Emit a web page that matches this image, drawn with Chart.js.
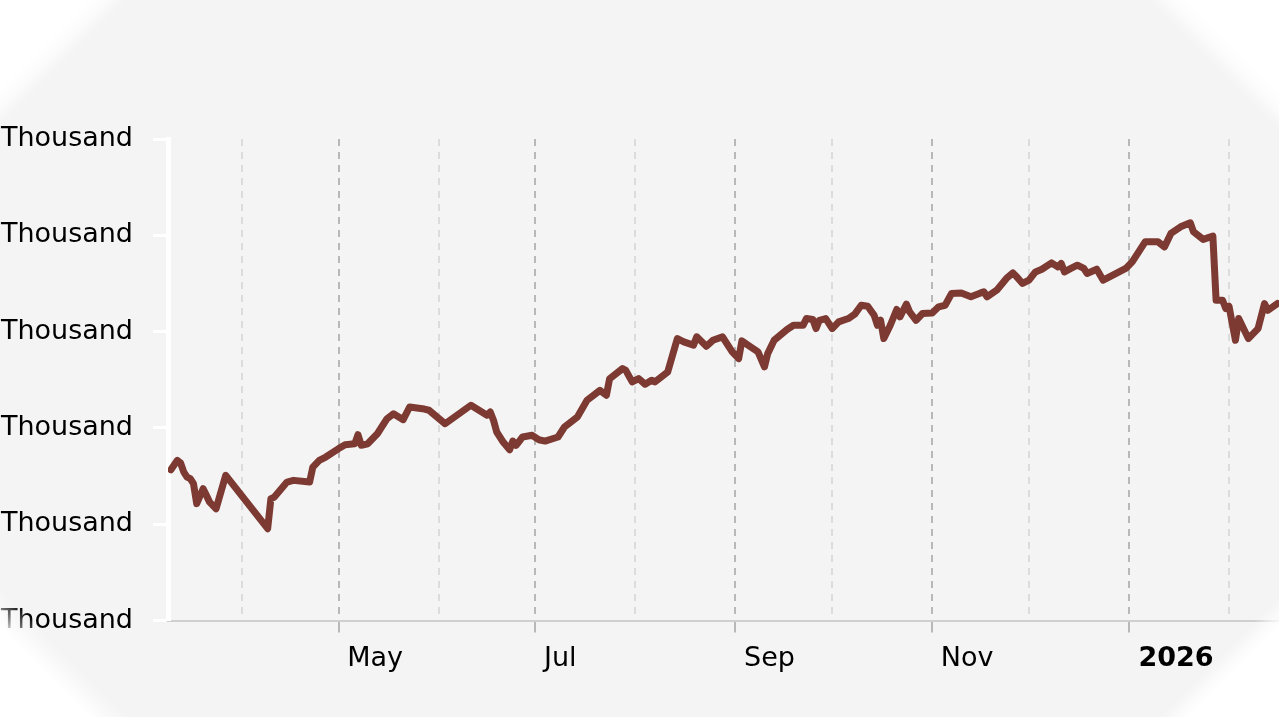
<!DOCTYPE html>
<html>
<head>
<meta charset="utf-8">
<script src="https://cdn.jsdelivr.net/npm/chart.js@4.4.1/dist/chart.umd.min.js"></script>
<style>
  html, body { margin: 0; padding: 0; background: #fff; }
  #wrap { position: relative; width: 1279px; height: 717px; background: #f4f4f4; overflow: hidden; }
  #chart { position: absolute; left: 0; top: 0; }
  /* torn paper corners */
  #edges {
    position: absolute; left: 0; top: 0; right: 0; bottom: 0; pointer-events: none;
    background:
      linear-gradient(135deg, #fff 4.4%, rgba(255,255,255,0.7) 5.3%, rgba(255,255,255,0) 6.4%),
      linear-gradient(225deg, #fff 4.6%, rgba(255,255,255,0.7) 5.5%, rgba(255,255,255,0) 6.6%),
      linear-gradient(45deg, #fff 4.4%, rgba(255,255,255,0.5) 5.4%, rgba(255,255,255,0) 6.6%),
      linear-gradient(315deg, #fff 4.4%, rgba(255,255,255,0.6) 5.2%, rgba(255,255,255,0) 6.1%);
  }
</style>
</head>
<body>
<div id="wrap">
  <canvas id="chart" width="1279" height="717"></canvas>
  <div id="edges"></div>
</div>
<script>
const dates = [
  '2025-03-10','2025-03-12','2025-03-13','2025-03-14','2025-03-15','2025-03-16','2025-03-17','2025-03-18',
  '2025-03-20','2025-03-21','2025-03-22','2025-03-24','2025-03-27','2025-04-09','2025-04-10','2025-04-11',
  '2025-04-15','2025-04-17','2025-04-22','2025-04-23','2025-04-25','2025-04-27','2025-05-01','2025-05-03',
  '2025-05-06','2025-05-07','2025-05-08','2025-05-10','2025-05-13','2025-05-16','2025-05-18','2025-05-21',
  '2025-05-23','2025-05-27','2025-05-29','2025-06-03','2025-06-11','2025-06-16','2025-06-17','2025-06-18',
  '2025-06-19','2025-06-21','2025-06-23','2025-06-24','2025-06-25','2025-06-27','2025-06-30','2025-07-02',
  '2025-07-04','2025-07-08','2025-07-10','2025-07-14','2025-07-17','2025-07-21','2025-07-23','2025-07-24',
  '2025-07-28','2025-07-29','2025-07-31','2025-08-02','2025-08-04','2025-08-06','2025-08-07','2025-08-11',
  '2025-08-14','2025-08-16','2025-08-19','2025-08-20','2025-08-23','2025-08-25','2025-08-28','2025-08-29',
  '2025-08-31','2025-09-02','2025-09-03','2025-09-05','2025-09-08','2025-09-10','2025-09-11','2025-09-13',
  '2025-09-17','2025-09-19','2025-09-22','2025-09-23','2025-09-25','2025-09-26','2025-09-27','2025-09-29',
  '2025-10-01','2025-10-03','2025-10-06','2025-10-08','2025-10-10','2025-10-12','2025-10-14','2025-10-15',
  '2025-10-16','2025-10-17','2025-10-19','2025-10-21','2025-10-22','2025-10-24','2025-10-25','2025-10-27',
  '2025-10-29','2025-11-01','2025-11-03','2025-11-05','2025-11-07','2025-11-10','2025-11-13','2025-11-16',
  '2025-11-17','2025-11-18','2025-11-21','2025-11-24','2025-11-26','2025-11-27','2025-11-29','2025-12-01',
  '2025-12-03','2025-12-05','2025-12-08','2025-12-10','2025-12-11','2025-12-12','2025-12-14','2025-12-16',
  '2025-12-18','2025-12-19','2025-12-22','2025-12-24','2025-12-27','2025-12-31','2026-01-02','2026-01-06',
  '2026-01-10','2026-01-12','2026-01-14','2026-01-17','2026-01-20','2026-01-21','2026-01-24','2026-01-27',
  '2026-01-28','2026-01-30','2026-01-31','2026-02-01','2026-02-03','2026-02-04','2026-02-07','2026-02-10',
  '2026-02-12','2026-02-13','2026-02-16'
];
const values = [
  178.3, 183.2, 181.8, 177.1, 174.5, 173.7, 171.1, 160.7,
  168.5, 165.0, 161.5, 158.1, 175.4, 147.7, 163.3, 164.0,
  171.9, 172.8, 171.9, 179.7, 183.2, 184.9, 189.3, 191.3,
  191.8, 196.5, 191.0, 191.8, 197.0, 204.8, 207.4, 204.3,
  210.9, 210.0, 209.2, 202.2, 211.8, 206.6, 208.3, 204.0,
  197.9, 192.7, 188.7, 193.2, 191.0, 195.3, 196.2, 193.9,
  193.2, 195.3, 200.5, 205.7, 214.4, 219.5, 217.0, 225.6,
  230.8, 229.9, 223.9, 225.6, 222.7, 224.8, 223.9, 229.1,
  246.4, 244.7, 243.0, 247.3, 242.4, 245.5, 247.3, 244.7,
  239.5, 236.0, 245.2, 242.9, 239.5, 231.7, 238.6, 245.5,
  251.1, 253.3, 253.3, 256.8, 256.3, 251.6, 255.9, 256.8,
  251.6, 255.1, 256.8, 259.1, 263.7, 263.2, 258.5, 253.3,
  255.9, 246.4, 253.3, 261.5, 257.7, 264.3, 260.3, 255.9,
  259.4, 259.7, 262.9, 263.7, 269.8, 270.1, 268.1, 270.1,
  270.7, 268.1, 271.5, 277.6, 280.5, 278.8, 275.0, 276.7,
  281.0, 282.4, 285.7, 283.6, 285.4, 281.0, 282.8, 284.5,
  282.8, 280.2, 282.4, 276.7, 279.3, 282.8, 286.2, 296.6,
  296.6, 294.0, 301.0, 304.4, 306.5, 301.8, 297.9, 299.6,
  266.3, 266.3, 262.0, 263.2, 245.5, 256.8, 246.4, 251.6,
  264.6, 261.1, 264.6
];

// month gridlines and their labels
const monthTicks = ['2025-04-01','2025-05-01','2025-06-01','2025-07-01','2025-08-01','2025-09-01',
                    '2025-10-01','2025-11-01','2025-12-01','2026-01-01','2026-02-01'];
const monthLabels = ['', 'May', '', 'Jul', '', 'Sep', '', 'Nov', '', '2026', ''];

const yTicks = [100, 150, 200, 250, 300, 350];
const yTickLabel = 'Thousand';

const dayNum = s => Date.parse(s + 'T00:00:00Z') / 864e5;
const isMajor = i => monthLabels[i] !== '';

const FONT = 'DejaVu Sans';

new Chart(document.getElementById('chart'), {
  type: 'line',
  data: {
    datasets: [{
      data: dates.map((d, i) => ({ x: dayNum(d), y: values[i] })),
      borderColor: '#7d3a32',
      borderWidth: 7,
      pointRadius: 0,
      tension: 0,
      borderJoinStyle: 'round',
      borderCapStyle: 'round',
    }]
  },
  options: {
    responsive: false,
    animation: false,
    events: [],
    layout: { padding: { top: 139, right: 0, bottom: 32, left: 0 } },
    plugins: { legend: { display: false }, tooltip: { enabled: false } },
    scales: {
      x: {
        type: 'linear',
        min: dayNum('2025-04-01') - 22.9,
        max: dayNum('2026-02-01') + 15.5,
        afterBuildTicks: axis => {
          axis.ticks = monthTicks.map(d => ({ value: dayNum(d) }));
        },
        ticks: {
          autoSkip: false,
          maxRotation: 0,
          align: 'start',
          padding: 10,
          color: '#000',
          callback: (v, i) => monthLabels[i] ? ' ' + monthLabels[i] : '',
          font: ctx => ({ family: FONT, size: 27, weight: monthLabels[ctx.index] === '2026' ? 'bold' : 'normal' }),
        },
        grid: {
          color: ctx => isMajor(ctx.index) ? '#b8b8b8' : '#dcdcdc',
          lineWidth: 2,
          tickLength: 12,
          tickWidth: 2,
          tickColor: ctx => isMajor(ctx.index) ? '#b8b8b8' : 'rgba(0,0,0,0)',
        },
        border: { color: '#cfcfcf', width: 2, dash: [7, 6] },
      },
      y: {
        min: yTicks[0],
        max: yTicks[yTicks.length - 1],
        afterFit: axis => { axis.width = 168; },
        ticks: {
          stepSize: yTicks[1] - yTicks[0],
          padding: 20,
          color: '#000',
          font: { family: FONT, size: 27 },
          callback: () => yTickLabel,
        },
        grid: {
          drawOnChartArea: false,
          tickLength: 15,
          tickWidth: 3,
          tickColor: '#fff',
        },
        border: { color: '#fff', width: 5 },
      }
    }
  }
});
</script>
</body>
</html>
